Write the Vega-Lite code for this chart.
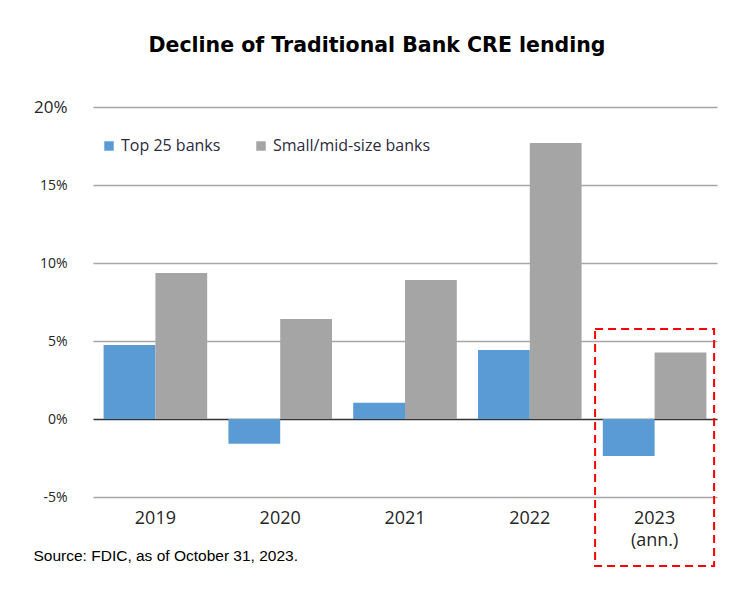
{
  "$schema": "https://vega.github.io/schema/vega-lite/v6.json",
  "autosize": "none",
  "width": 624,
  "height": 390,
  "padding": {"left": 93, "top": 107, "right": 23, "bottom": 95},
  "background": "white",
  "title": {
    "text": "Decline  of Traditional  Bank CRE lending",
    "font": "DejaVu Sans",
    "fontSize": 20.5,
    "fontWeight": "bold",
    "color": "#000000",
    "anchor": "middle",
    "dx": -28,
    "offset": 26,
    "baseline": "alphabetic"
  },
  "config": {
    "view": {"stroke": null},
    "axis": {"labelFont": "Open Sans", "titleFont": "Liberation Sans"}
  },
  "datasets": {
    "bars": [
      {"year": "2019", "series": "Top 25 banks", "value": 4.74},
      {"year": "2019", "series": "Small/mid-size banks", "value": 9.36},
      {"year": "2020", "series": "Top 25 banks", "value": -1.58},
      {"year": "2020", "series": "Small/mid-size banks", "value": 6.41},
      {"year": "2021", "series": "Top 25 banks", "value": 1.04},
      {"year": "2021", "series": "Small/mid-size banks", "value": 8.91},
      {"year": "2022", "series": "Top 25 banks", "value": 4.42},
      {"year": "2022", "series": "Small/mid-size banks", "value": 17.7},
      {"year": "2023 (ann.)", "series": "Top 25 banks", "value": -2.37},
      {"year": "2023 (ann.)", "series": "Small/mid-size banks", "value": 4.27}
    ],
    "box": [
      {"year": "2023 (ann.)", "top": 5.77, "bottom": -9.42}
    ]
  },
  "layer": [
    {
      "data": {"name": "bars"},
      "mark": {"type": "bar"},
      "encoding": {
        "x": {
          "field": "year",
          "type": "nominal",
          "sort": null,
          "scale": {"paddingInner": 0.17, "paddingOuter": 0.085},
          "axis": {
            "title": "Source: FDIC, as of October 31, 2023.",
            "titleFont": "Liberation Sans",
            "titleFontSize": 15.5,
            "titleFontWeight": "normal",
            "titleColor": "#000000",
            "titleAnchor": "start",
            "titleAlign": "left",
            "titleBaseline": "alphabetic",
            "titleX": -60,
            "titleY": 63,
            "labelAngle": 0,
            "labelFont": "Open Sans",
            "labelFontSize": 18,
            "labelColor": "#262626",
            "labelPadding": 12,
            "labelLineHeight": 22,
            "labelExpr": "split(datum.label, ' ')",
            "domain": false,
            "ticks": false
          }
        },
        "xOffset": {
          "field": "series",
          "type": "nominal",
          "sort": ["Top 25 banks", "Small/mid-size banks"]
        },
        "y": {
          "field": "value",
          "type": "quantitative",
          "scale": {"domain": [-5, 20], "nice": false, "zero": false},
          "axis": {
            "title": null,
            "values": [-5, 0, 5, 10, 15, 20],
            "labelExpr": "datum.value + '%'",
            "labelFont": "Open Sans",
            "labelFontSize": {"expr": "datum.value == 20 ? 17 : 14"},
            "labelColor": "#262626",
            "labelPadding": 26,
            "domain": false,
            "ticks": false,
            "grid": true,
            "gridColor": {"expr": "datum.value == 0 ? '#333333' : '#a6a6a6'"},
            "gridWidth": 1.5
          }
        },
        "color": {
          "field": "series",
          "type": "nominal",
          "sort": ["Top 25 banks", "Small/mid-size banks"],
          "scale": {
            "domain": ["Top 25 banks", "Small/mid-size banks"],
            "range": ["#5b9bd5", "#a5a5a5"]
          },
          "legend": {
            "title": null,
            "orient": "none",
            "legendX": 8,
            "legendY": 31,
            "direction": "horizontal",
            "symbolType": "square",
            "symbolSize": 90,
            "labelFont": "Open Sans",
            "labelFontSize": 16,
            "labelColor": "#2e2a40",
            "labelOffset": 4,
            "columnPadding": 32
          }
        }
      }
    },
    {
      "data": {"name": "box"},
      "mark": {
        "type": "bar",
        "width": 119,
        "fill": null,
        "fillOpacity": 0,
        "stroke": "#ff0000",
        "strokeWidth": 2,
        "strokeDash": [8, 5]
      },
      "encoding": {
        "x": {"field": "year", "type": "nominal", "sort": null},
        "y": {"field": "top", "type": "quantitative"},
        "y2": {"field": "bottom"}
      }
    }
  ]
}
